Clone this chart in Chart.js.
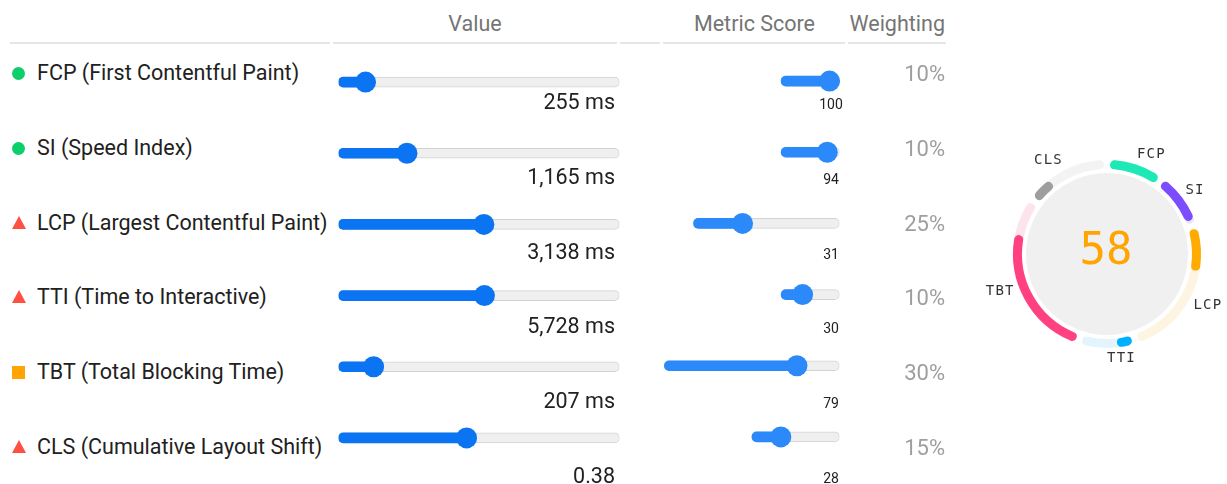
<!DOCTYPE html>
<html>
<head>
<meta charset="utf-8">
<script src="https://cdn.jsdelivr.net/npm/chart.js@4.4.1/dist/chart.umd.min.js"></script>
<style>
  html, body { margin: 0; padding: 0; background: #fff; }
  body { width: 1227px; height: 484px; overflow: hidden; position: relative; font-family: Roboto, "Noto Sans", sans-serif; }
  .abs { position: absolute; white-space: nowrap; }
  .head { color: #757575; font-size: 21.5px; line-height: 26px; top: 11px; }
  .rule { position: absolute; height: 2px; background: #e6e6e6; top: 42px; }
  .label { color: #212121; font-size: 21.5px; line-height: 26px; left: 37px; }
  .val { color: #212121; font-size: 21.5px; line-height: 26px; text-align: right; }
  .score { color: #212121; font-size: 14px; line-height: 16px; text-align: center; width: 40px; }
  .weight { color: #9e9e9e; font-size: 22px; line-height: 26px; text-align: right; }
  .icon { position: absolute; left: 12px; }
  canvas { position: absolute; }
</style>
</head>
<body>
<div class="abs head" style="left:375px; width:200px; text-align:center;">Value</div>
<div class="abs head" style="right:412px; text-align:right;">Metric Score</div>
<div class="abs head" style="right:282px; text-align:right;">Weighting</div>
<div class="rule" style="left:10px; width:320px;"></div>
<div class="rule" style="left:333px; width:284px;"></div>
<div class="rule" style="left:620px; width:40px;"></div>
<div class="rule" style="left:663px; width:182px;"></div>
<div class="rule" style="left:848px; width:98px;"></div>

<canvas id="valueChart" width="302" height="448" style="left:328px; top:36px;"></canvas>
<canvas id="scoreChart" width="200" height="448" style="left:650px; top:35px;"></canvas>
<canvas id="gaugeBack" width="260" height="240" style="left:967px; top:134px;"></canvas>
<canvas id="gaugeFront" width="260" height="240" style="left:967px; top:134px;"></canvas>

<script>
// metrics, top to bottom
const metricNames = ['FCP', 'SI', 'LCP', 'TTI', 'TBT', 'CLS'];
const metricLabels = [
    'FCP (First Contentful Paint)',
    'SI (Speed Index)',
    'LCP (Largest Contentful Paint)',
    'TTI (Time to Interactive)',
    'TBT (Total Blocking Time)',
    'CLS (Cumulative Layout Shift)'
];
const metricValues = [255, 1165, 3138, 5728, 207, 0.38];
const metricUnits = ['ms', 'ms', 'ms', 'ms', 'ms', ''];
const sliderMax = [3900, 5200, 6050, 11000, 2150, 0.84];
const metricScores = [100, 94, 31, 30, 79, 28];
const weights = [10, 10, 25, 10, 30, 15];
const statusIcons = ['circle', 'circle', 'triangle', 'triangle', 'square', 'triangle'];

const gaugeColors = ['#1de9b6', '#7c4dff', '#ffab00', '#00b0ff', '#ff4081', '#9e9e9e'];
const gaugeTints = ['#ddfbf3', '#ebe4ff', '#fef4e2', '#e3f4fd', '#fde3ec', '#f3f3f3'];

const rowTop = 36;
const rowH = 448 / 6;
const blue = '#0b74f3';
const blueLight = '#2b89fa';

// --- text part of the table ---
metricLabels.forEach((txt, i) => {
    const cy = rowTop + rowH * (i + 0.5);

    const icon = document.createElement('div');
    icon.className = 'icon';
    if (statusIcons[i] === 'circle') {
        icon.style.cssText = `top:${cy - 6.5}px; width:13px; height:13px; border-radius:50%; background:#0cce6b;`;
    } else if (statusIcons[i] === 'square') {
        icon.style.cssText = `top:${cy - 6.5}px; width:13px; height:13px; background:#ffa400;`;
    } else {
        icon.style.cssText = `top:${cy - 7}px; width:0; height:0; border-left:7px solid transparent; border-right:7px solid transparent; border-bottom:13px solid #ff4e42;`;
    }
    document.body.appendChild(icon);

    const lab = document.createElement('div');
    lab.className = 'abs label';
    lab.style.top = (cy - 13) + 'px';
    lab.textContent = txt;
    document.body.appendChild(lab);

    const v = metricValues[i];
    const val = document.createElement('div');
    val.className = 'abs val';
    val.style.cssText = `top:${cy + 16}px; right:${1227 - 615}px;`;
    val.textContent = metricUnits[i] ? v.toLocaleString('en-US') + ' ' + metricUnits[i] : v.toFixed(2);
    document.body.appendChild(val);

    const sc = document.createElement('div');
    sc.className = 'abs score';
    sc.style.cssText = `top:${cy + 23}px; left:${831 - 20}px;`;
    sc.textContent = metricScores[i];
    document.body.appendChild(sc);

    const w = document.createElement('div');
    w.className = 'abs weight';
    w.style.cssText = `top:${cy - 12}px; right:${1227 - 945}px;`;
    w.textContent = weights[i] + '%';
    document.body.appendChild(w);
});

const noChrome = {
    legend: { display: false },
    tooltip: { enabled: false }
};

// --- value sliders ---
const thumbPad = 3.82; // keeps the thumb inside the track ends
const valuePos = metricValues.map((v, i) => v / sliderMax[i] * 100);

new Chart(document.getElementById('valueChart'), {
    type: 'bar',
    data: {
        labels: metricNames,
        datasets: [
            {
                type: 'line',
                data: valuePos.map((p, i) => ({ x: p, y: metricNames[i] })),
                showLine: false,
                pointRadius: 10.5,
                pointBorderWidth: 0,
                pointBackgroundColor: blue,
                clip: false,
                order: 0
            },
            {
                data: valuePos.map(p => [-thumbPad, p]),
                backgroundColor: blue,
                borderRadius: 5,
                borderSkipped: false,
                barThickness: 10,
                order: 1
            },
            {
                data: metricNames.map(() => [-thumbPad, 100 + thumbPad]),
                backgroundColor: '#efefef',
                borderColor: '#d2d2d2',
                borderWidth: 1,
                borderRadius: 5,
                borderSkipped: false,
                barThickness: 10,
                order: 2
            }
        ]
    },
    options: {
        indexAxis: 'y',
        responsive: false,
        animation: false,
        layout: { padding: { left: 10, right: 10 } },
        plugins: noChrome,
        datasets: { bar: { grouped: false } },
        scales: {
            x: { type: 'linear', min: -thumbPad, max: 100 + thumbPad, display: false },
            y: { display: false }
        }
    }
});

// --- metric score sliders, track length follows the weighting ---
const scoreAxisMin = -30.66;
const inset = 1.7; // thumb radius in weighting units
const scorePos = weights.map((w, i) => -w + inset + metricScores[i] / 100 * (w - 2 * inset));

new Chart(document.getElementById('scoreChart'), {
    type: 'bar',
    data: {
        labels: metricNames,
        datasets: [
            {
                type: 'line',
                data: scorePos.map((p, i) => ({ x: p, y: metricNames[i] })),
                showLine: false,
                pointRadius: 10.5,
                pointBorderWidth: 0,
                pointBackgroundColor: blueLight,
                clip: false,
                order: 0
            },
            {
                data: scorePos.map((p, i) => [-weights[i], p]),
                backgroundColor: blueLight,
                borderRadius: 5,
                borderSkipped: false,
                barThickness: 10,
                order: 1
            },
            {
                data: weights.map(w => [-w, 0]),
                backgroundColor: '#efefef',
                borderColor: '#d2d2d2',
                borderWidth: 1,
                borderRadius: 5,
                borderSkipped: false,
                barThickness: 10,
                order: 2
            }
        ]
    },
    options: {
        indexAxis: 'y',
        responsive: false,
        animation: false,
        layout: { padding: { left: 10, right: 10 } },
        plugins: noChrome,
        datasets: { bar: { grouped: false } },
        scales: {
            x: { type: 'linear', min: scoreAxisMin, max: 0, display: false },
            y: { display: false }
        }
    }
});

// --- gauge ---
const gap = 1.1; // gap between metric arcs, in weighting units
const backData = [];
const backColors = [];
const frontData = [];
const frontColors = [];
weights.forEach((w, i) => {
    backData.push(w - gap, gap);
    backColors.push(gaugeTints[i], 'rgba(0,0,0,0)');
    const lit = (w - gap) * metricScores[i] / 100;
    frontData.push(lit, w - lit);
    frontColors.push(gaugeColors[i], 'rgba(0,0,0,0)');
});

const gaugeLayout = { padding: { left: 46, right: 26, top: 26, bottom: 26 } };

const diskAndLabels = {
    id: 'diskAndLabels',
    beforeDatasetsDraw(chart) {
        const arc = chart.getDatasetMeta(0).data[0];
        const ctx = chart.ctx;
        ctx.save();
        ctx.beginPath();
        ctx.arc(arc.x, arc.y, arc.innerRadius - 4, 0, Math.PI * 2);
        ctx.fillStyle = '#f0f0f0';
        ctx.fill();
        ctx.restore();
    },
    afterDatasetsDraw(chart) {
        const arcs = chart.getDatasetMeta(0).data;
        const ctx = chart.ctx;
        ctx.save();
        ctx.font = '14px "DejaVu Sans Mono", monospace';
        ctx.letterSpacing = '1.2px';
        ctx.fillStyle = '#333';
        metricNames.forEach((name, i) => {
            const a = arcs[i * 2];
            const mid = (a.startAngle + a.endAngle) / 2;
            const r = a.outerRadius + 3;
            // text hangs off the ring, pointing outwards
            ctx.textAlign = Math.cos(mid) >= -1e-6 ? 'left' : 'right';
            ctx.textBaseline = Math.sin(mid) < 0 ? 'bottom' : 'top';
            ctx.fillText(name, a.x + Math.cos(mid) * r, a.y + Math.sin(mid) * r);
        });
        ctx.restore();
    }
};

new Chart(document.getElementById('gaugeBack'), {
    type: 'doughnut',
    data: {
        labels: backData.map((d, i) => i),
        datasets: [{
            data: backData,
            backgroundColor: backColors,
            borderWidth: 0,
            borderRadius: 4.5
        }]
    },
    options: {
        responsive: false,
        animation: false,
        cutout: 85,
        rotation: gap * 3.6 / 2,
        layout: gaugeLayout,
        plugins: noChrome
    },
    plugins: [diskAndLabels]
});

const centerScore = {
    id: 'centerScore',
    afterDraw(chart) {
        const arc = chart.getDatasetMeta(0).data[0];
        const total = weights.reduce((acc, w, i) => acc + w * metricScores[i] / 100, 0);
        const ctx = chart.ctx;
        ctx.save();
        ctx.font = '44px "DejaVu Sans Mono", monospace';
        ctx.fillStyle = '#ffa400';
        ctx.textAlign = 'center';
        ctx.textBaseline = 'middle';
        ctx.fillText(Math.round(total), arc.x - 1, arc.y - 1);
        ctx.restore();
    }
};

new Chart(document.getElementById('gaugeFront'), {
    type: 'doughnut',
    data: {
        labels: frontData.map((d, i) => i),
        datasets: [{
            data: frontData,
            backgroundColor: frontColors,
            borderWidth: 0,
            borderRadius: 4.5
        }]
    },
    options: {
        responsive: false,
        animation: false,
        cutout: 85,
        rotation: gap * 3.6 / 2,
        layout: gaugeLayout,
        plugins: noChrome
    },
    plugins: [centerScore]
});
</script>
</body>
</html>
